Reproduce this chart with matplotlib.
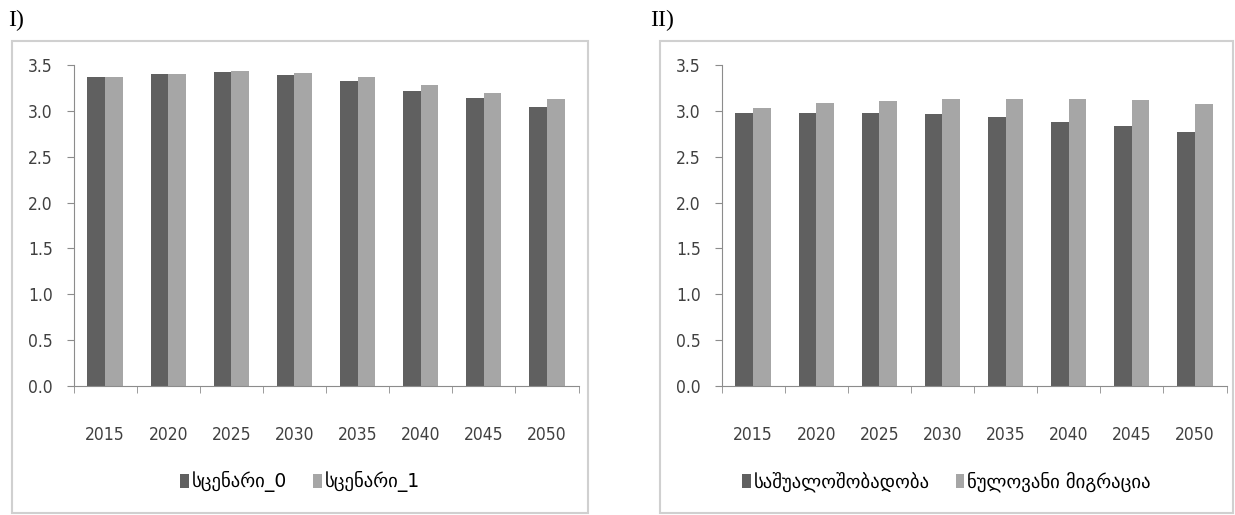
import numpy as np
import matplotlib
matplotlib.use('Agg')
import matplotlib.pyplot as plt
from matplotlib.patches import Rectangle

# data
years = ['2015', '2020', '2025', '2030', '2035', '2040', '2045', '2050']

scen0 = [3.37, 3.40, 3.42, 3.39, 3.33, 3.22, 3.14, 3.04]
scen1 = [3.37, 3.40, 3.43, 3.41, 3.37, 3.28, 3.20, 3.13]
labels_1 = ['სცენარი_0', 'სცენარი_1']

avg_fert = [2.98, 2.98, 2.98, 2.97, 2.93, 2.88, 2.84, 2.77]
zero_mig = [3.03, 3.09, 3.11, 3.13, 3.13, 3.13, 3.12, 3.07]
labels_2 = ['საშუალოშობადობა', 'ნულოვანი მიგრაცია']

yticks = [0.0, 0.5, 1.0, 1.5, 2.0, 2.5, 3.0, 3.5]

dark = '#606060'
light = '#a6a6a6'
axis_col = '#8c8c8c'
tick_font = ['DejaVu Sans']

W, H = 1235, 515
fig = plt.figure(figsize=(W / 100, H / 100), dpi=100)


def draw_panel(left_px, box, a, b, names, tag, tag_x):
    ax = fig.add_axes([left_px / W, (H - 386) / H, 505 / W, 321 / H])
    x = np.arange(len(years))
    w = 0.28
    ax.bar(x - w / 2, a, w, color=dark, label=names[0])
    ax.bar(x + w / 2, b, w, color=light, label=names[1])
    ax.set_xlim(-0.5, len(years) - 0.5)
    ax.set_ylim(0, 3.5)
    ax.set_yticks(yticks)
    ax.set_yticklabels(['%.1f' % v for v in yticks], family=tick_font,
                       fontsize=12.5, color='#404040', stretch='condensed')
    ax.set_xticks(x)
    ax.set_xticklabels(years, family=tick_font, fontsize=12.5, color='#404040',
                       stretch='condensed')
    ax.set_xticks(np.arange(-0.5, len(years)), minor=True)
    ax.tick_params(axis='x', which='major', length=0, pad=29)
    ax.tick_params(axis='x', which='minor', length=5, color=axis_col)
    ax.tick_params(axis='y', length=5, color=axis_col, pad=10)
    for s in ['top', 'right']:
        ax.spines[s].set_visible(False)
    for s in ['left', 'bottom']:
        ax.spines[s].set_color(axis_col)
    # chart frame like a spreadsheet chart
    x0, x1 = box
    fig.patches.append(Rectangle((x0 / W, 2 / H), (x1 - x0) / W, (H - 41 - 2) / H,
                                 transform=fig.transFigure, fill=False,
                                 edgecolor='#d0d0d0', linewidth=1.5))
    fig.legend(handles=ax.patches[:1] + ax.patches[len(years):len(years) + 1],
               labels=names, loc='center',
               bbox_to_anchor=((x0 + x1) / 2 / W, (H - 482) / H),
               ncol=2, frameon=False, handlelength=0.45, handleheight=0.75,
               handletextpad=0.15, columnspacing=1.4,
               prop={'family': 'DejaVu Sans', 'size': 13.5})
    fig.text(tag_x / W, (H - 20) / H, tag, family='Liberation Serif',
             fontsize=17, va='center', ha='left')


draw_panel(73.5, (12, 588), scen0, scen1, labels_1, 'I)', 8)
draw_panel(721.5, (660, 1233), avg_fert, zero_mig, labels_2, 'II)', 650)

fig.savefig('out.png', dpi=100)
